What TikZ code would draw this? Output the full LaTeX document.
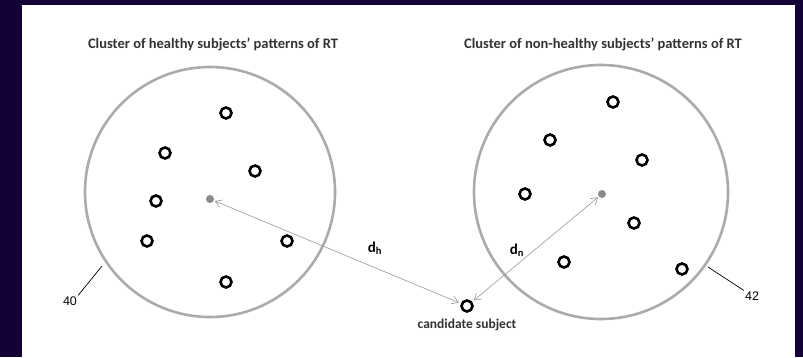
\documentclass[tikz,border=0pt]{standalone}
\usepackage{fontspec}
\setmainfont{Carlito}
\newfontfamily\numfont{Liberation Sans}
\usepackage{xcolor}
\usepackage{tikz}
\usetikzlibrary{positioning,arrows.meta}
\definecolor{frame}{HTML}{140236}
\definecolor{rim}{HTML}{ABABAB}
\definecolor{seed}{HTML}{8A8A8A}
\begin{document}
\begin{tikzpicture}[x=1pt, y=-1pt,
        cluster/.style={draw=rim, circle, line width=2.6pt, inner sep=0pt},
        ring/.style={draw, circle, line width=2.6pt, minimum size=11pt, inner sep=0pt},
        centre/.style={fill=seed, circle, minimum size=8pt, inner sep=0pt},
        title/.style={font=\fontsize{14.5}{16}\selectfont\bfseries, text=black!80},
        dist/.style={draw=black!40, line width=0.6pt, {Straight Barb[length=2.2mm,width=2.8mm]}-{Straight Barb[length=2.2mm,width=2.8mm]}},
        lead/.style={draw=black, line width=0.7pt},
        refnum/.style={font=\fontsize{12.5}{14}\numfont, inner sep=1pt},
        dlbl/.style={font=\fontsize{15}{17}\selectfont\bfseries},
    ]
        \fill[frame] (0,0) rectangle (803,357);
        \fill[white] (22,5) rectangle (795,357);
        \node[title] (htitle) at (213,44) {Cluster of healthy subjects’ patterns of RT};
        \node[title] (ntitle) at (603,44) {Cluster of non-healthy subjects’ patterns of RT};
        \node[cluster, minimum size=250pt] (hclu) at (210,192) {};
        \node[cluster, minimum size=254pt] (nclu) at (601,192) {};
        \foreach \p [count=\i] in {(226,113),(165,153),(255,171),(156,201),(147,241),(287,241),(226,282)}
            \node[ring] (h\i) at \p {};
        \foreach \p [count=\i] in {(613,102),(550,140),(642,160),(525,194),(634,223),(564,262),(682,269)}
            \node[ring] (n\i) at \p {};
        \node[centre] (hc) at (210,199) {};
        \node[centre] (nc) at (602,194) {};
        \node[ring] (cand) at (467,306) {};
        \node[below=3pt of cand, font=\fontsize{13.5}{15}\selectfont\bfseries, text=black!80] (candlbl) {candidate subject};
        \draw[dist, shorten <=1pt, shorten >=2pt] (hc) -- (cand);
        \draw[dist, shorten <=2pt, shorten >=1pt] (cand) -- (nc);
        \node[dlbl] (dh) at (375,248) {d\textsubscript{h}};
        \node[dlbl] (dn) at (517,250) {d\textsubscript{n}};
        \node[refnum] (r40) at (70,301) {40};
        \node[refnum] (r42) at (752,296) {42};
        \coordinate (h40) at (102,266);
        \coordinate (n42) at (708,267);
        \draw[lead] (r40.north east) -- (h40);
        \draw[lead] (r42.north west) -- (n42);
    \end{tikzpicture}
\end{document}
